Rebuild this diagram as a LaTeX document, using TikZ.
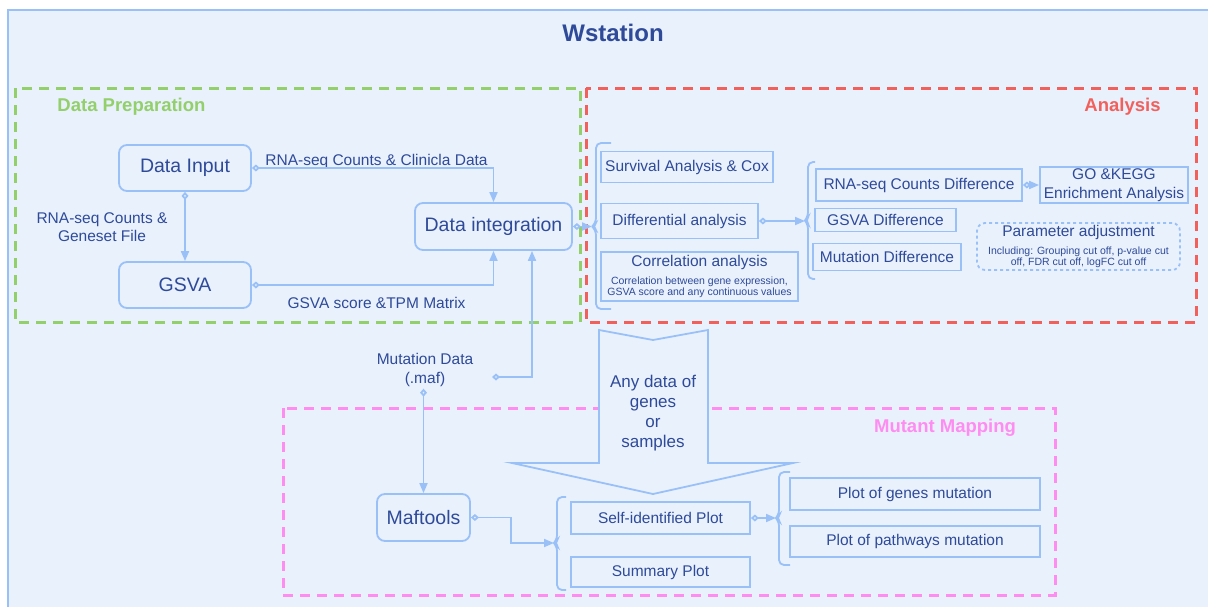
\documentclass[tikz,border=0pt]{standalone}
\usepackage{fontspec}
\setmainfont{Liberation Sans}
\usetikzlibrary{arrows.meta}

\definecolor{bgblue}{HTML}{E9F1FD}
\definecolor{lineblue}{HTML}{9AC1F7}
\definecolor{txtblue}{HTML}{2E4A99}
\definecolor{prepgreen}{HTML}{93CF6B}
\definecolor{anared}{HTML}{F2605C}
\definecolor{mutpink}{HTML}{FF8CF0}

\begin{document}
\begin{tikzpicture}[x=1pt, y=-1pt,
  every node/.style={text=txtblue, font=\fontsize{15.5}{18.5}\selectfont, inner sep=0},
  box/.style 2 args={draw=lineblue, line width=1.8, minimum width=#1, minimum height=#2},
  rbox/.style 2 args={box={#1}{#2}, rounded corners=8},
  big/.style={font=\fontsize{19.5}{23}\selectfont},
  sect/.style={font=\bfseries\fontsize{18.5}{22}\selectfont},
  link/.style={draw=lineblue, line width=1.8, arrows={Diamond[open,length=8pt,width=7pt]-Triangle[length=10pt,width=8pt]}},
  brk/.style={draw=lineblue, line width=1.8, rounded corners=5},
  area/.style={line width=3, dash pattern=on 10pt off 7pt}]

  \useasboundingbox (0,0) rectangle (1208,606);
  \clip (0,0) rectangle (1208,606);
  \fill[white] (0,0) rectangle (1208,606);
  \draw[fill=bgblue, draw=lineblue, line width=1.8] (8,10) rectangle (1240,640);

  \node[font=\bfseries\fontsize{24}{28}\selectfont] (title) at (613,33) {Wstation};

  % three areas
  \draw[area, prepgreen] (15,88) rectangle (580,322);
  \draw[area, anared] (586,88) rectangle (1196,322);
  \draw[area, mutpink] (283,408) rectangle (1055,595);
  \node[sect, text=prepgreen] (prep) at (131.5,107) {Data Preparation};
  \node[sect, text=anared] (ana) at (1122.5,107) {Analysis};
  \node[sect, text=mutpink] (mutmap) at (945,428) {Mutant Mapping};

  % big arrow
  \draw[fill=bgblue, draw=lineblue, line width=1.8] (599,330) -- (653,340) -- (708,330) -- (708,463)
    -- (793,463) -- (653,494) -- (512,463) -- (599,463) -- cycle;
  \node[font=\fontsize{17}{20}\selectfont, align=center] (anyd) at (653,413) {Any data of\\genes\\or\\samples};

  % data preparation
  \node[rbox={132}{46}, big] (input) at (185,168) {Data Input};
  \node[rbox={132}{46}, big] (gsva) at (185,285) {GSVA};
  \node[rbox={157}{47}, big] (integ) at (493.5,226.5) {Data integration};
  \node (l1) at (376.5,161) {RNA-seq Counts \& Clinicla Data};
  \node (l2) at (376.5,303) {GSVA score \&TPM Matrix};
  \node[align=center] (l3) at (102,227) {RNA-seq Counts \&\\Geneset File};

  % analysis
  \node[box={172}{31}] (surv) at (687,167) {Survival Analysis \& Cox};
  \node[box={157}{35}] (diff) at (679.5,221) {Differential analysis};
  \node[box={197}{49}, align=center] (corr) at (699.5,276.5)
    {Correlation analysis\\[-1pt]\fontsize{10.5}{12}\selectfont Correlation between gene expression,\\[-7pt]\fontsize{10.5}{12}\selectfont GSVA score and any continuous values};
  \node[box={206}{32}] (rnad) at (919,185) {RNA-seq Counts Difference};
  \node[box={148}{36}, align=center] (go) at (1114,185) {GO \&KEGG\\Enrichment Analysis};
  \node[box={141}{23}] (gsvad) at (885.5,220) {GSVA Difference};
  \node[box={148}{27}] (mutd) at (887,257) {Mutation Difference};
  \node[box={203}{47}, rounded corners=8, dashed, align=center] (param) at (1078.5,246.5)
    {Parameter adjustment\\[-1pt]\fontsize{10.5}{12}\selectfont Including: Grouping cut off, p-value cut\\[-7pt]\fontsize{10.5}{12}\selectfont off, FDR cut off, logFC cut off};

  % mutation
  \node[align=center, inner sep=2] (mut) at (425,370) {Mutation Data\\(.maf)};
  \coordinate (mutout) at (492,377);
  \node[rbox={93}{47}, big] (maf) at (423.5,517.5) {Maftools};
  \node[box={179}{32}] (self) at (660.5,518) {Self-identified Plot};
  \node[box={179}{30}] (summ) at (660.5,572) {Summary Plot};
  \node[box={250}{32}] (pgen) at (915,494) {Plot of genes mutation};
  \node[box={250}{31}] (ppath) at (915,541.5) {Plot of pathways mutation};

  % braces
  \draw[brk] (611,143) -- (596,143) -- (596,223) -- (592,226.5) -- (596,230) -- (596,309) -- (611,309);
  \draw[brk] (815,162) -- (808,162) -- (808,217) -- (805,220.5) -- (808,224) -- (808,279) -- (815,279);
  \draw[brk] (566,497) -- (557,497) -- (557,540) -- (554,543) -- (557,546) -- (557,590) -- (566,590);
  \draw[brk] (790,472) -- (779,472) -- (779,515) -- (776,518) -- (779,521) -- (779,565) -- (790,565);
  \coordinate (t1) at (592,226.5);
  \coordinate (t2) at (805,221);
  \coordinate (t3) at (554,543);
  \coordinate (t4) at (776,518);

  \draw[link] (input.east) -| (integ.north);
  \draw[link] (gsva.east) -| (integ.south);
  \draw[link] (input.south) -- (gsva.north);
  \draw[link] (integ.east) -- (t1);
  \draw[link] (mutout) -| ([xshift=38.5]integ.south);
  \draw[link] (mut.south -| maf.north) -- (maf.north);
  \draw[link] (maf.east) -- ++(40,0) |- (t3);
  \draw[link] (diff.east) -- (t2);
  \draw[link] (rnad.east) -- (rnad.east -| go.west);
  \draw[link] (self.east) -- (t4);
\end{tikzpicture}
\end{document}
